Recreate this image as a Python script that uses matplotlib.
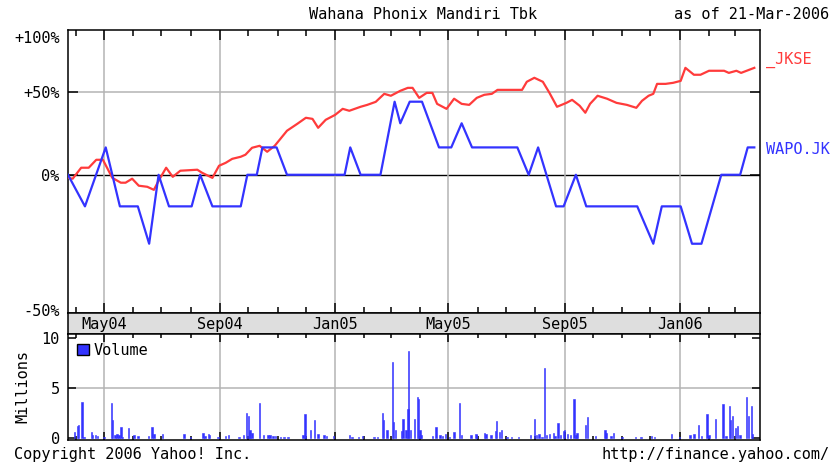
import pandas as pd
import matplotlib
matplotlib.use("Agg")
import matplotlib.pyplot as plt
import matplotlib.dates as mdates
from matplotlib.patches import Patch

plt.rcParams['font.family'] = 'DejaVu Sans Mono'
plt.rcParams['font.size'] = 11

# WAPO.JK, % change since start
wapo_dates = ['2004-03-24', '2004-04-11', '2004-05-03', '2004-05-18', '2004-06-06',
              '2004-06-18', '2004-06-28', '2004-07-09', '2004-08-02', '2004-08-11',
              '2004-08-24', '2004-09-23', '2004-09-30', '2004-10-10', '2004-10-16',
              '2004-10-31', '2004-11-11', '2005-01-11', '2005-01-17', '2005-01-28',
              '2005-02-18', '2005-03-05', '2005-03-11', '2005-03-21', '2005-04-03',
              '2005-04-21', '2005-05-04', '2005-05-15', '2005-05-26', '2005-07-13',
              '2005-07-25', '2005-08-04', '2005-08-23', '2005-08-31', '2005-09-13',
              '2005-09-24', '2005-11-17', '2005-12-04', '2005-12-13', '2006-01-02',
              '2006-01-14', '2006-01-24', '2006-02-14', '2006-03-06', '2006-03-14',
              '2006-03-21']
wapo_pct = [0, -14.3, 14.3, -14.3, -14.3,
            -28.6, 0, -14.3, -14.3, 0,
            -14.3, -14.3, 0, 0, 14.3,
            14.3, 0, 0, 14.3, 0,
            0, 42.9, 28.6, 42.9, 42.9,
            14.3, 14.3, 28.6, 14.3, 14.3,
            0, 14.3, -14.3, -14.3, 0,
            -14.3, -14.3, -28.6, -14.3, -14.3,
            -28.6, -28.6, 0, 0, 14.3,
            14.3]

# _JKSE, % change since start
jkse_dates = ['2004-03-24', '2004-03-29', '2004-04-07', '2004-04-15', '2004-04-23',
              '2004-04-30', '2004-05-10', '2004-05-19', '2004-05-24', '2004-05-31',
              '2004-06-07', '2004-06-16', '2004-06-23', '2004-06-28', '2004-07-06',
              '2004-07-13', '2004-07-21', '2004-08-08', '2004-08-13', '2004-08-24',
              '2004-08-31', '2004-09-07', '2004-09-14', '2004-09-23', '2004-09-28',
              '2004-10-05', '2004-10-13', '2004-10-21', '2004-10-29', '2004-11-11',
              '2004-11-22', '2004-12-01', '2004-12-08', '2004-12-14', '2004-12-22',
              '2005-01-01', '2005-01-09', '2005-01-16', '2005-01-28', '2005-02-04',
              '2005-02-13', '2005-02-22', '2005-03-01', '2005-03-11', '2005-03-19',
              '2005-03-24', '2005-03-31', '2005-04-08', '2005-04-14', '2005-04-19',
              '2005-04-29', '2005-05-07', '2005-05-15', '2005-05-23', '2005-05-31',
              '2005-06-08', '2005-06-16', '2005-06-22', '2005-07-18', '2005-07-23',
              '2005-07-31', '2005-08-09', '2005-08-16', '2005-08-24', '2005-09-03',
              '2005-09-09', '2005-09-17', '2005-09-23', '2005-09-28', '2005-10-06',
              '2005-10-16', '2005-10-26', '2005-11-06', '2005-11-16', '2005-11-22',
              '2005-11-29', '2005-12-04', '2005-12-08', '2005-12-17', '2005-12-25',
              '2006-01-02', '2006-01-07', '2006-01-16', '2006-01-23', '2006-02-01',
              '2006-02-17', '2006-02-22', '2006-03-02', '2006-03-07', '2006-03-21']
jkse_pct = [-1.5, -1.9, 3.5, 3.5, 7.6,
            7.6, -1.5, -3.8, -3.8, -1.9,
            -5.2, -5.7, -7.1, -2.9, 3.5,
            -1.0, 2.0, 2.5, 1.0, -1.5,
            4.5, 6.0, 8.1, 9.2, 10.3,
            14.1, 15.2, 11.9, 15.2, 24.0,
            28.3, 32.1, 31.4, 25.8, 30.8,
            34.0, 38.0, 36.7, 39.4, 40.7,
            42.8, 48.5, 47.1, 50.7, 52.9,
            52.9, 45.6, 49.2, 49.2, 41.4,
            38.0, 45.0, 41.4, 40.7, 45.6,
            47.8, 48.5, 51.4, 51.4, 57.5,
            60.6, 57.5, 49.2, 39.4, 42.1,
            44.2, 40.1, 35.4, 41.4, 47.1,
            45.0, 42.1, 40.7, 38.7, 43.5,
            47.1, 48.5, 55.9, 55.9, 56.7,
            58.2, 68.6, 63.0, 63.0, 66.2,
            66.2, 64.5, 66.2, 64.5, 68.6]

# daily volume (millions), day = days after vol_start
vol_start = '2004-03-24'
vol_day = [7, 10, 11, 15, 17, 25, 26, 29, 31, 38, 46, 47, 50, 52, 54, 56, 58, 64, 70, 74,
           85, 89, 91, 100, 123, 130, 143, 145, 149, 150, 159, 167, 170, 181, 186, 189, 191,
           192, 193, 195, 203, 207, 212, 214, 217, 220, 225, 229, 233, 249, 251, 257, 261,
           265, 271, 274, 281, 298, 301, 308, 312, 324, 328, 333, 334, 338, 344, 345, 347,
           353, 355, 358, 360, 361, 363, 367, 370, 371, 373, 374, 386, 390, 394, 397, 400,
           404, 409, 415, 417, 427, 432, 433, 441, 443, 448, 453, 454, 457, 459, 465, 470,
           477, 490, 494, 496, 499, 502, 505, 507, 510, 514, 516, 519, 522, 525, 526, 529,
           532, 536, 538, 539, 548, 550, 559, 569, 570, 575, 578, 587, 601, 607, 618, 621,
           639, 648, 659, 663, 668, 671, 677, 679, 686, 694, 697, 701, 702, 704, 707, 709,
           712, 719, 721, 724, 725]
vol_millions = [0.6, 1.2, 1.3, 3.6, 0.1, 0.6, 0.3, 0.3, 0.2, 0.1, 3.5, 1.8, 0.3, 0.4, 0.3,
                1.1, 0.1, 1.0, 0.3, 0.2, 0.2, 1.1, 0.4, 0.4, 0.4, 0.1, 0.5, 0.2, 0.4, 0.3,
                0.1, 0.2, 0.3, 0.1, 0.3, 2.5, 2.2, 0.6, 0.8, 0.5, 3.5, 0.3, 0.3, 0.3, 0.2,
                0.2, 0.1, 0.1, 0.1, 0.3, 2.4, 0.8, 1.8, 0.4, 0.3, 0.2, 0.2, 0.3, 0.1, 0.1,
                0.2, 0.1, 0.1, 2.5, 1.8, 0.8, 7.6, 1.6, 0.8, 0.7, 1.9, 0.8, 2.9, 8.7, 0.8,
                1.9, 4.1, 3.9, 0.8, 0.3, 0.2, 1.1, 0.3, 0.2, 0.4, 0.1, 0.6, 3.5, 0.3, 0.3,
                0.4, 0.3, 0.5, 0.4, 0.3, 0.7, 1.7, 0.6, 0.8, 0.1, 0.1, 0.1, 0.3, 1.9, 0.3,
                0.4, 0.1, 7.0, 0.3, 0.4, 0.5, 0.2, 1.5, 0.3, 0.7, 0.8, 0.4, 0.3, 3.9, 0.3,
                0.5, 1.3, 2.1, 0.2, 0.8, 0.5, 0.2, 0.5, 0.1, 0.1, 0.1, 0.2, 0.1, 0.4, 0.1,
                0.3, 0.4, 1.3, 0.2, 2.4, 0.3, 1.9, 3.4, 0.2, 3.2, 1.8, 2.2, 1.0, 1.2, 0.3,
                4.1, 2.2, 3.2, 0.4]

RED = '#ff3b3b'
BLUE = '#3333ff'
GRID = '#b4b4b4'
x_range = (pd.Timestamp('2004-03-24'), pd.Timestamp('2006-03-27'))

wapo_x = pd.to_datetime(wapo_dates)
wapo_y = [1 + p / 100 for p in wapo_pct]
jkse_x = pd.to_datetime(jkse_dates)
jkse_y = [1 + p / 100 for p in jkse_pct]
vol_x = pd.Timestamp(vol_start) + pd.to_timedelta(vol_day, unit='D')

fig = plt.figure(figsize=(8.38, 4.70), dpi=100)
ax = fig.add_axes([0.0811, 0.3340, 0.8258, 0.6021])
band = fig.add_axes([0.0811, 0.2894, 0.8258, 0.0447], sharex=ax)
vax = fig.add_axes([0.0811, 0.0638, 0.8258, 0.2256], sharex=ax)

major = mdates.MonthLocator(bymonth=[1, 5, 9])
minor = mdates.MonthLocator()

# price panel
ax.set_yscale('log')
ax.set_ylim(0.509, 2.028)
ax.set_xlim(*x_range)
ax.xaxis.set_major_locator(major)
ax.xaxis.set_minor_locator(minor)
ax.grid(True, which='major', axis='x', color=GRID, lw=1.1)
ax.axhline(1.5, color=GRID, lw=1.1, zorder=1)
ax.axhline(1.0, color='black', lw=1.0, zorder=1)
ax.plot(jkse_x, jkse_y, color=RED, lw=1.6, zorder=3)
ax.plot(wapo_x, wapo_y, color=BLUE, lw=1.6, zorder=4)
ax.set_yticks([1.5, 1.0])
ax.set_yticklabels(['+50%', '0%'])
ax.yaxis.set_minor_locator(plt.NullLocator())
ax.tick_params(axis='y', which='both', direction='in', length=7, width=1.1,
               right=True, pad=6)
ax.tick_params(axis='x', which='major', direction='in', length=7, width=1.1,
               top=True, bottom=True, labelbottom=False)
ax.tick_params(axis='x', which='minor', direction='in', length=4, width=1.1,
               top=True, bottom=True)
ax.text(-0.012, 1.946, '+100%', transform=ax.get_yaxis_transform(),
        ha='right', va='center')
ax.text(-0.012, 0.514, '-50%', transform=ax.get_yaxis_transform(),
        ha='right', va='center')
ax.text(1.009, 1.75, '_JKSE', transform=ax.get_yaxis_transform(),
        color=RED, ha='left', va='center')
ax.text(1.009, 1.134, 'WAPO.JK', transform=ax.get_yaxis_transform(),
        color=BLUE, ha='left', va='center')
for s in ax.spines.values():
    s.set_linewidth(1.1)

# date band
band.set_facecolor('#dedede')
band.set_yticks([])
band.xaxis.set_major_locator(major)
band.xaxis.set_major_formatter(mdates.DateFormatter('%b%y'))
band.tick_params(axis='x', which='both', length=0, pad=-12.5)
for s in band.spines.values():
    s.set_linewidth(1.1)

# volume panel
vax.bar(vol_x, vol_millions, width=1.5, color=BLUE, edgecolor=BLUE,
        linewidth=0.4, zorder=3)
vax.set_ylim(-0.2, 10.4)
vax.set_yticks([0, 5, 10])
vax.grid(True, which='major', axis='x', color=GRID, lw=1.1)
vax.axhline(5, color=GRID, lw=1.1, zorder=1)
vax.tick_params(axis='y', direction='in', length=6, width=1.1, right=True, pad=6)
vax.tick_params(axis='x', which='major', direction='in', length=6, width=1.1,
                top=True, bottom=True, labelbottom=False)
vax.tick_params(axis='x', which='minor', direction='in', length=3, width=1.1,
                top=True, bottom=True)
vax.set_ylabel('Millions', labelpad=8)
vax.legend(handles=[Patch(facecolor=BLUE, edgecolor='black', label='Volume')],
           loc='upper left', frameon=False, handlelength=0.75, handleheight=0.75,
           handletextpad=0.3, borderaxespad=0.3, borderpad=0.3)
for s in vax.spines.values():
    s.set_linewidth(1.1)

fig.text(0.505, 0.970, 'Wahana Phonix Mandiri Tbk', ha='center', va='center')
fig.text(0.990, 0.970, 'as of 21-Mar-2006', ha='right', va='center')
fig.text(0.0167, 0.032, 'Copyright 2006 Yahoo! Inc.', ha='left', va='center')
fig.text(0.990, 0.032, 'http://finance.yahoo.com/', ha='right', va='center')

fig.savefig('out.png', dpi=100)
